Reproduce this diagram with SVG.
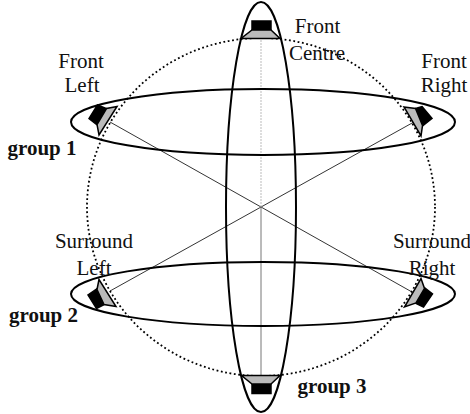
<svg xmlns="http://www.w3.org/2000/svg" width="470" height="414" viewBox="0 0 470 414">
<style>
text{font-family:"Liberation Serif","Times New Roman",serif;font-size:21px;fill:#111;text-anchor:middle}
.b{font-weight:bold}
.ring{fill:none;stroke:#000;stroke-width:2}
.dot{fill:none;stroke:#000;stroke-width:1.8;stroke-dasharray:1.8 2.6}
.ray{stroke:#000;stroke-width:.8;fill:none}
.cone{fill:#bbb;stroke:#000;stroke-width:1.5}
.mag{fill:#000;stroke:#000;stroke-width:1.500}
</style>
<g id="connectors">
<ellipse class="dot" cx="261" cy="207" rx="174" ry="169"/>
<line class="ray" x1="110" y1="122" x2="412" y2="292"/>
<line class="ray" x1="413" y1="122.500" x2="110" y2="291"/>
<line x1="261" y1="40" x2="261" y2="207" stroke="#bbb" stroke-width="1" stroke-dasharray="2 1"/>
<line x1="261" y1="207" x2="261" y2="375" stroke="#777" stroke-width="1"/>
<ellipse class="ring" cx="263" cy="122" rx="192" ry="33"/>
<ellipse class="ring" cx="263" cy="294" rx="192" ry="32"/>
<ellipse class="ring" cx="261" cy="207" rx="35" ry="205"/>
</g>
<g id="speaker-front-centre"><rect class="mag" x="252" y="21" width="19" height="9"/><path class="cone" d="M241 38.500H280L271 30H252Z"/></g>
<g id="speaker-front-left"><path class="mag" d="M97.500 105L89 118.500L96.500 124.500L106.500 108.500Z"/><path class="cone" d="M117 106.500L106.500 108.500L97 124.500L99 135Z"/></g>
<g id="speaker-front-right"><path class="mag" d="M422 106.500L432 118.500L423 125.500L415.500 108.500Z"/><path class="cone" d="M404 107L415.500 108.500L422.500 125.500L421 136Z"/></g>
<g id="speaker-surround-left"><path class="mag" d="M96.500 289L88 295L96.500 308.500L103.500 305Z"/><path class="cone" d="M99 279.500L97 289.500L104 304.500L116 306.500Z"/></g>
<g id="speaker-surround-right"><path class="mag" d="M425 288L432.500 294L423.500 307L416 303.500Z"/><path class="cone" d="M421 278.500L424.500 288.500L416 303L404.500 307Z"/></g>
<g id="speaker-rear"><rect class="mag" x="252" y="384" width="19" height="9.500"/><path class="cone" d="M241.500 375.500H280L271 384H252Z"/></g>
<g id="label-front-centre"><text x="317.500" y="33">Front</text><text x="317" y="60">Centre</text></g>
<g id="label-front-left"><text x="81" y="68">Front</text><text x="82" y="92">Left</text></g>
<g id="label-front-right"><text x="444" y="68">Front</text><text x="444" y="92">Right</text></g>
<g id="label-surround-left"><text x="94" y="248">Surround</text><text x="94" y="275">Left</text></g>
<g id="label-surround-right"><text x="432" y="248">Surround</text><text x="432" y="275">Right</text></g>
<g id="label-group-1"><text class="b" x="42" y="155">group 1</text></g>
<g id="label-group-2"><text class="b" x="43.500" y="322">group 2</text></g>
<g id="label-group-3"><text class="b" x="332" y="393">group 3</text></g>
</svg>
